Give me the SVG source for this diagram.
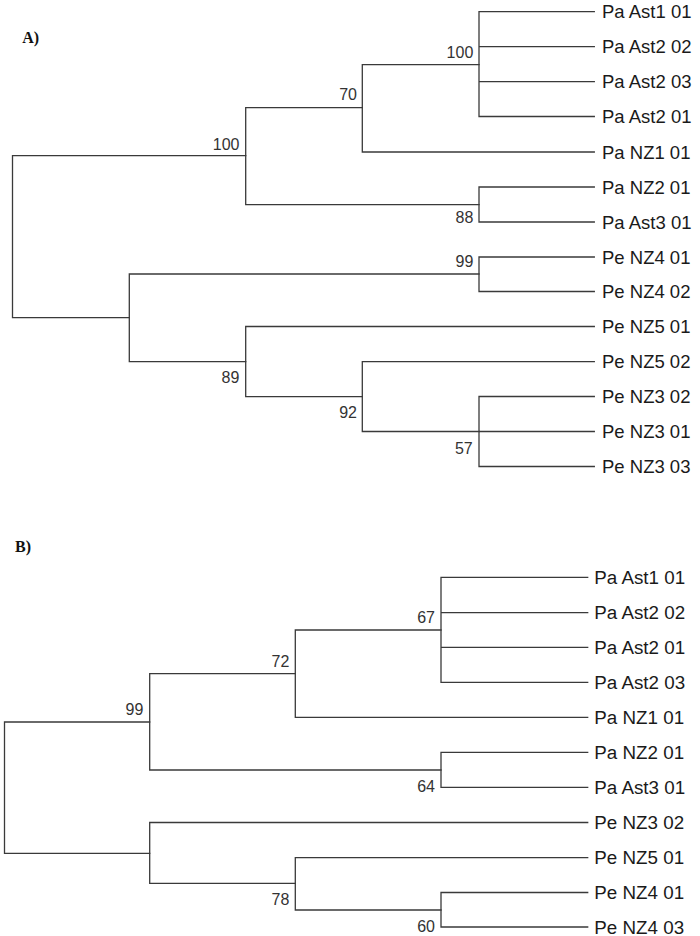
<svg xmlns="http://www.w3.org/2000/svg" width="700" height="936" viewBox="0 0 700 936">
<style>
.e{fill:none;stroke:#3a3a3a;stroke-width:1.3;stroke-linecap:square}
.t{font-family:"Liberation Sans",Arial,sans-serif;font-size:18.5px;fill:#1a1a1a}
.tb{font-family:"Liberation Sans",Arial,sans-serif;font-size:18.8px;fill:#1a1a1a}
.s{font-family:"Liberation Sans",Arial,sans-serif;font-size:16px;fill:#333;text-anchor:end}
.p{font-family:"Liberation Serif","Times New Roman",serif;font-size:16px;font-weight:bold;fill:#111}
</style>
<rect width="700" height="936" fill="#fff"/>
<text class="p" x="22.3" y="42.5">A)</text>
<text class="p" x="15" y="551.7">B)</text>
<g id="connectors">
<!-- Tree A -->
<path class="e" d="M12.5,155.7V317.7M12.5,155.7H245.7M12.5,317.7H129.3"/>
<path class="e" d="M245.7,107.7V204.7M245.7,107.7H362.3M245.7,204.7H479"/>
<path class="e" d="M362.3,64.7V152M362.3,64.7H479M362.3,152H594.3"/>
<path class="e" d="M479,11.7V116.5M479,11.7H594.3M479,46.7H594.3M479,81.7H594.3M479,116.5H594.3"/>
<path class="e" d="M479,187V222M479,187H594.3M479,222H594.3"/>
<path class="e" d="M129.3,274V361.7M129.3,274H479M129.3,361.7H245.7"/>
<path class="e" d="M479,257V291.5M479,257H594.3M479,291.5H594.3"/>
<path class="e" d="M245.7,326.5V396.7M245.7,326.5H594.3M245.7,396.7H362.3"/>
<path class="e" d="M362.3,361.7V431.5M362.3,361.7H594.3M362.3,431.5H479"/>
<path class="e" d="M479,396.5V466.5M479,396.5H594.3M479,431.5H594.3M479,466.5H594.3"/>
<!-- Tree B -->
<path class="e" d="M4.5,722V853.3M4.5,722H149.7M4.5,853.3H149.7"/>
<path class="e" d="M149.7,673.7V770M149.7,673.7H295.3M149.7,770H441"/>
<path class="e" d="M295.3,630V717.3M295.3,630H441M295.3,717.3H587.7"/>
<path class="e" d="M441,577.3V682.3M441,577.3H587.7M441,612.7H587.7M441,647.3H587.7M441,682.3H587.7"/>
<path class="e" d="M441,752.3V787.3M441,752.3H587.7M441,787.3H587.7"/>
<path class="e" d="M149.7,822.5V883.3M149.7,822.5H587.7M149.7,883.3H295.3"/>
<path class="e" d="M295.3,857.7V910M295.3,857.7H587.7M295.3,910H441"/>
<path class="e" d="M441,892.5V927M441,892.5H587.7M441,927H587.7"/>
</g>
<g id="A-n100root"><text class="s" x="239.5" y="150">100</text></g>
<g id="A-n70"><text class="s" x="357" y="100">70</text></g>
<g id="A-n100"><text class="s" x="473.3" y="58.3">100</text></g>
<g id="A-n88"><text class="s" x="473.3" y="222.7">88</text></g>
<g id="A-n99"><text class="s" x="473.3" y="267">99</text></g>
<g id="A-n89"><text class="s" x="239.3" y="383.3">89</text></g>
<g id="A-n92"><text class="s" x="357" y="418.3">92</text></g>
<g id="A-n57"><text class="s" x="472.7" y="454">57</text></g>
<g id="A-tips">
<g id="A-t1"><text class="t" x="602" y="18.3">Pa Ast1 01</text></g>
<g id="A-t2"><text class="t" x="602" y="53.3">Pa Ast2 02</text></g>
<g id="A-t3"><text class="t" x="602" y="88.3">Pa Ast2 03</text></g>
<g id="A-t4"><text class="t" x="602" y="123.1">Pa Ast2 01</text></g>
<g id="A-t5"><text class="t" x="602" y="158.6">Pa NZ1 01</text></g>
<g id="A-t6"><text class="t" x="602" y="193.6">Pa NZ2 01</text></g>
<g id="A-t7"><text class="t" x="602" y="228.6">Pa Ast3 01</text></g>
<g id="A-t8"><text class="t" x="602" y="263.6">Pe NZ4 01</text></g>
<g id="A-t9"><text class="t" x="602" y="298.1">Pe NZ4 02</text></g>
<g id="A-t10"><text class="t" x="602" y="333.1">Pe NZ5 01</text></g>
<g id="A-t11"><text class="t" x="602" y="368.3">Pe NZ5 02</text></g>
<g id="A-t12"><text class="t" x="602" y="403.1">Pe NZ3 02</text></g>
<g id="A-t13"><text class="t" x="602" y="438.1">Pe NZ3 01</text></g>
<g id="A-t14"><text class="t" x="602" y="473.1">Pe NZ3 03</text></g>
</g>
<g id="B-n99"><text class="s" x="143.3" y="715">99</text></g>
<g id="B-n72"><text class="s" x="289.3" y="667.3">72</text></g>
<g id="B-n67"><text class="s" x="435" y="623.3">67</text></g>
<g id="B-n64"><text class="s" x="435" y="791.7">64</text></g>
<g id="B-n78"><text class="s" x="289.3" y="905">78</text></g>
<g id="B-n60"><text class="s" x="435" y="931.5">60</text></g>
<g id="B-tips">
<g id="B-t1"><text class="tb" x="594.3" y="583.9">Pa Ast1 01</text></g>
<g id="B-t2"><text class="tb" x="594.3" y="619.3">Pa Ast2 02</text></g>
<g id="B-t3"><text class="tb" x="594.3" y="653.9">Pa Ast2 01</text></g>
<g id="B-t4"><text class="tb" x="594.3" y="688.9">Pa Ast2 03</text></g>
<g id="B-t5"><text class="tb" x="594.3" y="723.9">Pa NZ1 01</text></g>
<g id="B-t6"><text class="tb" x="594.3" y="758.9">Pa NZ2 01</text></g>
<g id="B-t7"><text class="tb" x="594.3" y="793.9">Pa Ast3 01</text></g>
<g id="B-t8"><text class="tb" x="594.3" y="829.1">Pe NZ3 02</text></g>
<g id="B-t9"><text class="tb" x="594.3" y="864.3">Pe NZ5 01</text></g>
<g id="B-t10"><text class="tb" x="594.3" y="899.1">Pe NZ4 01</text></g>
<g id="B-t11"><text class="tb" x="594.3" y="933.6">Pe NZ4 03</text></g>
</g>
</svg>
